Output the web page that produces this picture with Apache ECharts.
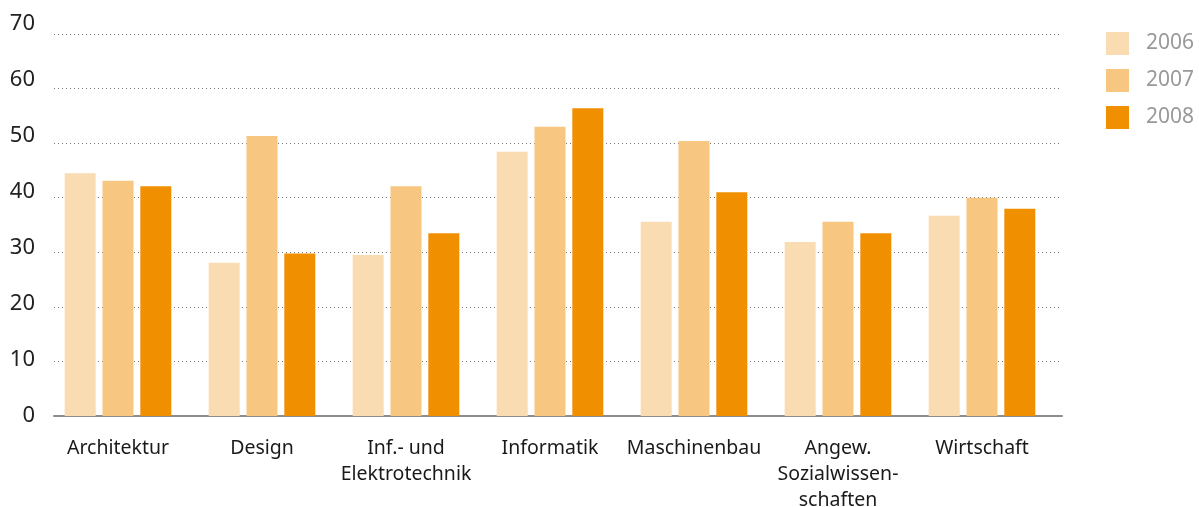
<!DOCTYPE html>
<html>
<head>
<meta charset="utf-8">
<script src="https://cdn.jsdelivr.net/npm/echarts@6/dist/echarts.min.js"></script>
<style>
  html, body { margin: 0; padding: 0; background: #fff; }
  #chart { width: 1199px; height: 507px; }
</style>
</head>
<body>
<div id="chart"></div>
<script>
// Studienrichtungen
var categories = ['Architektur', 'Design', 'Inf.- und\nElektrotechnik', 'Informatik', 'Maschinenbau', 'Angew.\nSozialwissen-\nschaften', 'Wirtschaft'];
var years = ['2006', '2007', '2008'];
var values2006 = [44.5, 28.1, 29.5, 48.4, 35.6, 31.9, 36.7];
var values2007 = [43.1, 51.3, 42.1, 53.0, 50.4, 35.6, 40.0];
var values2008 = [42.1, 29.8, 33.5, 56.4, 41.0, 33.5, 38.0];
var yTicks = [0, 10, 20, 30, 40, 50, 60, 70];

var colors = ['#F9DCB1', '#F7C680', '#F08F00'];
var font = '"Noto Sans", "Open Sans", sans-serif';

var myChart = echarts.init(document.getElementById('chart'));

var option = {
    animation: false,
    color: colors,
    textStyle: { fontFamily: font },
    legend: {
        orient: 'vertical',
        left: 1106,
        top: 32,
        padding: 0,
        icon: 'rect',
        itemWidth: 23,
        itemHeight: 23,
        itemGap: 14,
        data: years,
        textStyle: {
            fontFamily: font,
            fontSize: 21,
            lineHeight: 23,
            color: '#999',
            padding: [0, 0, 0, 12]
        }
    },
    grid: [
        // Rahmen mit Hilfslinien
        { left: 54, right: 137, top: 34, bottom: 91, outerBoundsMode: 'none' },
        // Balken
        { left: 46, right: 145, top: 34, bottom: 91, outerBoundsMode: 'none' },
        // Beschriftung der y-Achse
        { left: 54, right: 137, top: 24, bottom: 91.5, outerBoundsMode: 'none' }
    ],
    xAxis: [
        {
            gridIndex: 0, type: 'category', data: categories,
            axisLine: { lineStyle: { color: '#8c8c8c', width: 2 } },
            axisTick: { show: false }, axisLabel: { show: false }
        },
        {
            gridIndex: 1, type: 'category', data: categories,
            axisLine: { show: false }, axisTick: { show: false },
            axisLabel: {
                interval: 0,
                margin: 19,
                fontSize: 19.5,
                lineHeight: 26,
                color: '#1a1a1a',
                fontFamily: font
            }
        },
        {
            gridIndex: 2, type: 'category', data: categories, show: false
        }
    ],
    yAxis: [
        {
            gridIndex: 0, type: 'value', min: 0, max: 70, interval: 10,
            axisLine: { show: false }, axisTick: { show: false }, axisLabel: { show: false },
            splitLine: { lineStyle: { type: [1, 3], color: '#777', width: 1 } }
        },
        {
            gridIndex: 1, type: 'value', min: 0, max: 70, interval: 10, show: false,
            splitLine: { show: false }
        },
        {
            gridIndex: 2, type: 'value', min: 0, max: 70, interval: 10,
            axisLine: { show: false }, axisTick: { show: false },
            splitLine: { show: false },
            axisLabel: {
                margin: 19,
                fontSize: 22,
                color: '#222',
                fontFamily: font,
                formatter: function (v) { return yTicks.indexOf(v) >= 0 ? String(v) : ''; }
            }
        }
    ],
    series: [
        { name: '2006', type: 'bar', xAxisIndex: 1, yAxisIndex: 1, data: values2006, barWidth: 31, barGap: '22%' },
        { name: '2007', type: 'bar', xAxisIndex: 1, yAxisIndex: 1, data: values2007, barWidth: 31, barGap: '22%' },
        { name: '2008', type: 'bar', xAxisIndex: 1, yAxisIndex: 1, data: values2008, barWidth: 31, barGap: '22%' }
    ]
};

myChart.setOption(option);
window.addEventListener('resize', function () { myChart.resize(); });
</script>
</body>
</html>
